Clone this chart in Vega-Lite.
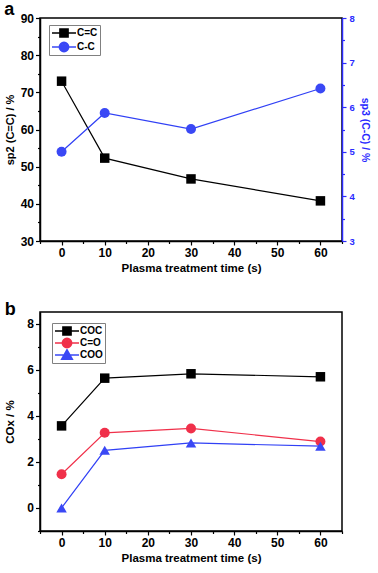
{
  "$schema": "https://vega.github.io/schema/vega-lite/v6.json",
  "padding": {"left": 3, "top": 0, "right": 0, "bottom": 0},
  "background": "#ffffff",
  "config": {
    "font": "Liberation Sans",
    "view": {"stroke": "#000000", "strokeWidth": 1.5},
    "axis": {
      "labelFont": "Liberation Sans", "labelFontWeight": "bold", "labelFontSize": 12, "labelColor": "#000000",
      "titleFont": "Liberation Sans", "titleFontWeight": "bold", "titleFontSize": 11.5, "titleColor": "#000000",
      "domainColor": "#000000", "domainWidth": 1.5, "tickColor": "#000000", "tickWidth": 1.2,
      "labelPadding": 2, "grid": false, "labelOverlap": false, "labelBound": false, "labelFlush": false
    },
    "title": {"font": "Liberation Sans", "fontSize": 18, "fontWeight": "bold", "anchor": "start", "frame": "bounds", "color": "#000000", "baseline": "alphabetic"},
    "legend": {"labelFont": "Liberation Sans", "labelFontWeight": "bold", "labelFontSize": 10, "labelColor": "#000000"}
  },
  "datasets": {
    "a": [
      {"t": 0, "series": "C=C", "value": 73.0},
      {"t": 10, "series": "C=C", "value": 52.3},
      {"t": 30, "series": "C=C", "value": 46.7},
      {"t": 60, "series": "C=C", "value": 40.8},
      {"t": 0, "series": "C-C", "value": 5.0},
      {"t": 10, "series": "C-C", "value": 5.87},
      {"t": 30, "series": "C-C", "value": 5.51},
      {"t": 60, "series": "C-C", "value": 6.42}
    ],
    "b": [
      {"t": 0, "series": "COC", "value": 3.56},
      {"t": 10, "series": "COC", "value": 5.63},
      {"t": 30, "series": "COC", "value": 5.82},
      {"t": 60, "series": "COC", "value": 5.69},
      {"t": 0, "series": "C=O", "value": 1.46},
      {"t": 10, "series": "C=O", "value": 3.26},
      {"t": 30, "series": "C=O", "value": 3.45},
      {"t": 60, "series": "C=O", "value": 2.88},
      {"t": 0, "series": "COO", "value": 0.0},
      {"t": 10, "series": "COO", "value": 2.5},
      {"t": 30, "series": "COO", "value": 2.82},
      {"t": 60, "series": "COO", "value": 2.68}
    ]
  },
  "spacing": 25,
  "resolve": {
    "scale": {"x": "independent", "y": "independent", "shape": "independent", "stroke": "independent"},
    "legend": {"shape": "independent", "stroke": "independent"}
  },
  "vconcat": [
    {
      "title": {"text": "a", "offset": -7},
      "width": 302,
      "height": 223,
      "data": {"name": "a"},
      "encoding": {
        "x": {"field": "t", "type": "quantitative", "scale": {"domain": [-5, 65], "nice": false},
              "axis": {"title": "Plasma treatment time (s)", "titlePadding": 4, "labelOverlap": false, "values": [-5, 0, 5, 10, 15, 20, 25, 30, 35, 40, 45, 50, 55, 60, 65],
                       "tickSize": {"condition": {"test": "datum.value % 10 == 0", "value": 4}, "value": 2.5},
                       "labelExpr": "indexof([0, 10, 20, 30, 40, 50, 60], datum.value) >= 0 ? datum.label : ''"}}
      },
      "layer": [
        {
          "transform": [{"filter": "datum.series === 'C=C'"}],
          "mark": {"type": "line", "color": "#000000", "strokeWidth": 1.2,
                   "point": {"shape": "square", "size": 90, "filled": true, "color": "#000000", "opacity": 1}},
          "encoding": {
            "y": {"field": "value", "type": "quantitative", "scale": {"domain": [30, 90], "nice": false, "zero": false},
                  "axis": {"title": "sp2 (C=C) / %", "titleFontSize": 11, "labelOverlap": false, "titlePadding": 5, "values": [30, 35, 40, 45, 50, 55, 60, 65, 70, 75, 80, 85, 90],
                           "tickSize": {"condition": {"test": "datum.value % 10 == 0", "value": 4.5}, "value": 2.5},
                           "labelExpr": "datum.value % 10 == 0 ? datum.label : ''"}}
          }
        },
        {
          "transform": [{"filter": "datum.series === 'C-C'"}],
          "mark": {"type": "line", "color": "#3040f5", "strokeWidth": 1.2,
                   "point": {"shape": "circle", "size": 100, "filled": true, "color": "#3a48f5", "opacity": 1}},
          "encoding": {
            "y": {"field": "value", "type": "quantitative", "scale": {"domain": [3, 8], "nice": false, "zero": false},
                  "axis": {"orient": "right", "title": "sp3 (C-C) / %", "titleFontSize": 10.5, "labelOverlap": false, "titlePadding": 5, "labelPadding": 3,
                           "values": [3, 3.5, 4, 4.5, 5, 5.5, 6, 6.5, 7, 7.5, 8],
                           "tickSize": {"condition": {"test": "datum.value % 1 == 0", "value": 4}, "value": 2.5},
                           "labelExpr": "datum.value % 1 == 0 ? format(datum.value, 'd') : ''", "labelFontSize": 9.5,
                           "domainColor": "#2b2bff", "tickColor": "#2b2bff", "labelColor": "#2b2bff", "titleColor": "#2b2bff"}}
          }
        },
        {
          "mark": {"type": "point", "opacity": 0, "filled": false},
          "encoding": {
            "stroke": {"field": "series", "type": "nominal",
                       "scale": {"domain": ["C=C", "C-C"], "range": ["#000000", "#3a48f5"]},
                       "legend": {"title": null, "orient": "none", "legendX": 9, "legendY": 7, "strokeColor": "#808080", "fillColor": "#ffffff",
                                  "padding": 2, "symbolSize": 144, "symbolOffset": 6, "symbolStrokeWidth": 1.3, "symbolOpacity": 1,
                                  "labelOffset": 6, "rowPadding": 2, "clipHeight": 12}},
            "shape": {"field": "series", "type": "nominal",
                      "scale": {"domain": ["C=C", "C-C"], "range": [
                        "M-2,0H2M-0.7,-0.7H0.7V0.7H-0.7ZM-0.5,-0.5H0.5V0.5H-0.5ZM-0.3,-0.3H0.3V0.3H-0.3ZM-0.1,-0.1H0.1V0.1H-0.1Z",
                        "M-2,0H2M-0.8,0A0.8,0.8 0 1,0 0.8,0A0.8,0.8 0 1,0 -0.8,0ZM-0.6,0A0.6,0.6 0 1,0 0.6,0A0.6,0.6 0 1,0 -0.6,0ZM-0.4,0A0.4,0.4 0 1,0 0.4,0A0.4,0.4 0 1,0 -0.4,0ZM-0.2,0A0.2,0.2 0 1,0 0.2,0A0.2,0.2 0 1,0 -0.2,0Z"]}}
          }
        }
      ],
      "resolve": {"scale": {"y": "independent"}}
    },
    {
      "title": {"text": "b", "offset": -7},
      "width": 302,
      "height": 219,
      "data": {"name": "b"},
      "encoding": {
        "x": {"field": "t", "type": "quantitative", "scale": {"domain": [-5, 65], "nice": false},
              "axis": {"title": "Plasma treatment time (s)", "titlePadding": 4, "labelOverlap": false, "values": [-5, 0, 5, 10, 15, 20, 25, 30, 35, 40, 45, 50, 55, 60, 65],
                       "tickSize": {"condition": {"test": "datum.value % 10 == 0", "value": 4}, "value": 2.5},
                       "labelExpr": "indexof([0, 10, 20, 30, 40, 50, 60], datum.value) >= 0 ? datum.label : ''"}},
        "y": {"field": "value", "type": "quantitative", "scale": {"domain": [-1, 8.5], "nice": false, "zero": false},
              "axis": {"title": "COx / %", "titleFontSize": 11.5, "labelOverlap": false, "titlePadding": 11, "values": [-1, 0, 1, 2, 3, 4, 5, 6, 7, 8],
                       "tickSize": {"condition": {"test": "datum.value % 2 == 0", "value": 4.5}, "value": 2.5},
                       "labelExpr": "indexof([0, 2, 4, 6, 8], datum.value) >= 0 ? datum.label : ''"}}
      },
      "layer": [
        {
          "transform": [{"filter": "datum.series === 'COC'"}],
          "mark": {"type": "line", "color": "#000000", "strokeWidth": 1.2,
                   "point": {"shape": "square", "size": 90, "filled": true, "color": "#000000", "opacity": 1}}
        },
        {
          "transform": [{"filter": "datum.series === 'C=O'"}],
          "mark": {"type": "line", "color": "#f0304a", "strokeWidth": 1.2,
                   "point": {"shape": "circle", "size": 100, "filled": true, "color": "#f0304a", "opacity": 1}}
        },
        {
          "transform": [{"filter": "datum.series === 'COO'"}],
          "mark": {"type": "line", "color": "#3040f5", "strokeWidth": 1.2,
                   "point": {"shape": "triangle-up", "size": 110, "filled": true, "color": "#3a48f5", "opacity": 1}}
        },
        {
          "mark": {"type": "point", "opacity": 0, "filled": false},
          "encoding": {
            "stroke": {"field": "series", "type": "nominal",
                       "scale": {"domain": ["COC", "C=O", "COO"], "range": ["#000000", "#f0304a", "#3a48f5"]},
                       "legend": {"title": null, "orient": "none", "legendX": 12, "legendY": 11, "strokeColor": "#808080", "fillColor": "#ffffff",
                                  "padding": 2, "symbolSize": 144, "symbolOffset": 6, "symbolStrokeWidth": 1.3, "symbolOpacity": 1,
                                  "labelOffset": 6, "rowPadding": 0, "clipHeight": 12}},
            "shape": {"field": "series", "type": "nominal",
                      "scale": {"domain": ["COC", "C=O", "COO"], "range": [
                        "M-2,0H2M-0.7,-0.7H0.7V0.7H-0.7ZM-0.5,-0.5H0.5V0.5H-0.5ZM-0.3,-0.3H0.3V0.3H-0.3ZM-0.1,-0.1H0.1V0.1H-0.1Z",
                        "M-2,0H2M-0.8,0A0.8,0.8 0 1,0 0.8,0A0.8,0.8 0 1,0 -0.8,0ZM-0.6,0A0.6,0.6 0 1,0 0.6,0A0.6,0.6 0 1,0 -0.6,0ZM-0.4,0A0.4,0.4 0 1,0 0.4,0A0.4,0.4 0 1,0 -0.4,0ZM-0.2,0A0.2,0.2 0 1,0 0.2,0A0.2,0.2 0 1,0 -0.2,0Z",
                        "M-2,0H2M0,-0.92L0.92,0.72L-0.92,0.72ZM0,-0.69L0.69,0.54L-0.69,0.54ZM0,-0.46L0.46,0.36L-0.46,0.36ZM0,-0.23L0.23,0.18L-0.23,0.18Z"]}}
          }
        }
      ]
    }
  ]
}
